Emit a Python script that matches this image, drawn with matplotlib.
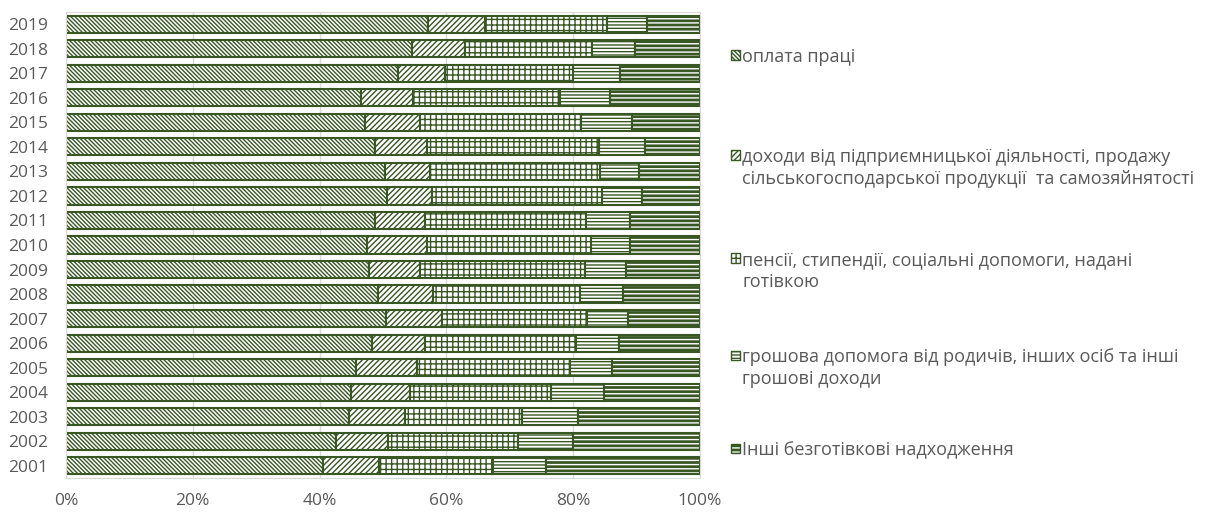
import numpy as np
import matplotlib.pyplot as plt
from matplotlib.patches import Rectangle

plt.rcParams['font.family'] = ['Open Sans', 'DejaVu Sans']
plt.rcParams['hatch.linewidth'] = 1.0

years = [str(y) for y in range(2001, 2020)]

# shares, %
wages = [40.6, 42.6, 44.7, 44.9, 45.7, 48.2, 50.5, 49.2, 47.8, 47.4,
         48.7, 50.6, 50.3, 48.7, 47.2, 46.6, 52.4, 54.5, 57.1]
business = [8.7, 8.2, 8.8, 9.4, 9.7, 8.4, 8.8, 8.7, 8.0, 9.6,
            7.9, 7.1, 7.1, 8.3, 8.6, 8.1, 7.4, 8.4, 9.0]
pensions = [18.1, 20.5, 18.5, 22.2, 24.1, 23.8, 22.8, 23.2, 26.0, 25.8,
            25.4, 26.9, 26.9, 27.1, 25.4, 23.2, 20.1, 20.0, 19.2]
help_money = [8.3, 8.6, 8.8, 8.4, 6.6, 6.9, 6.6, 6.8, 6.6, 6.1,
              6.9, 6.2, 6.1, 7.2, 8.0, 7.9, 7.5, 6.8, 6.4]
non_cash = [24.3, 20.1, 19.2, 15.1, 13.9, 12.7, 11.3, 12.1, 11.6, 11.1,
            11.1, 9.2, 9.6, 8.7, 10.8, 14.2, 12.6, 10.3, 8.3]

labels = ['оплата праці',
          'доходи від підприємницької діяльності, продажу\nсільськогосподарської продукції  та самозяйнятості',
          'пенсії, стипендії, соціальні допомоги, надані\nготівкою',
          'грошова допомога від родичів, інших осіб та інші\nгрошові доходи',
          'Інші безготівкові надходження']

green = '#385723'
grey = '#595959'
# (face colour, hatch colour, hatch)
styles = [('white', green, '\\' * 8),
          ('white', green, '//////'),
          ('white', green, '+++'),
          ('white', green, '-----'),
          (green, 'white', '----')]

series = [wages, business, pensions, help_money, non_cash]

fig = plt.figure(figsize=(12.16, 5.14), dpi=100)
ax = fig.add_axes([66 / 1216, 1 - 478 / 514, 634 / 1216, 466 / 514])

y = np.arange(len(years))
left = np.zeros(len(years))
for vals, (fc, hc, h) in zip(series, styles):
    vals = np.array(vals)
    ax.barh(y, vals, left=left, height=0.7, color=fc, edgecolor=hc,
            hatch=h, linewidth=0)
    ax.barh(y, vals, left=left, height=0.7, fill=False, edgecolor=green,
            linewidth=1.5)
    left += vals

ax.set_xlim(0, 100)
ax.set_ylim(-0.5, len(years) - 0.5)
ax.set_yticks(y)
ax.set_yticklabels(years)
ax.set_xticks(range(0, 101, 20))
ax.set_xticklabels([f'{v}%' for v in range(0, 101, 20)])
ax.tick_params(axis='both', length=0, colors=grey, labelsize=12.5)
ax.tick_params(axis='y', pad=13)
ax.tick_params(axis='x', pad=11)
ax.grid(axis='x', color='#d9d9d9', linewidth=1)
ax.set_axisbelow(True)
for s in ax.spines.values():
    s.set_color('#d9d9d9')

# legend on the right
leg_y = [55, 155, 258, 355, 448]
for lab, (fc, hc, h), yy in zip(labels, styles, leg_y):
    fig.add_artist(Rectangle((731 / 1216, 1 - (yy + 4.5) / 514), 9 / 1216, 9 / 514,
                             transform=fig.transFigure, facecolor=fc,
                             edgecolor=hc, hatch=h, linewidth=0))
    fig.add_artist(Rectangle((731 / 1216, 1 - (yy + 4.5) / 514), 9 / 1216, 9 / 514,
                             transform=fig.transFigure, fill=False,
                             edgecolor=green, linewidth=1))
    fig.text(742 / 1216, 1 - (yy - 7) / 514, lab, color=grey, fontsize=13,
             va='top', ha='left', linespacing=1.3)

fig.savefig('out.png', dpi=100)
